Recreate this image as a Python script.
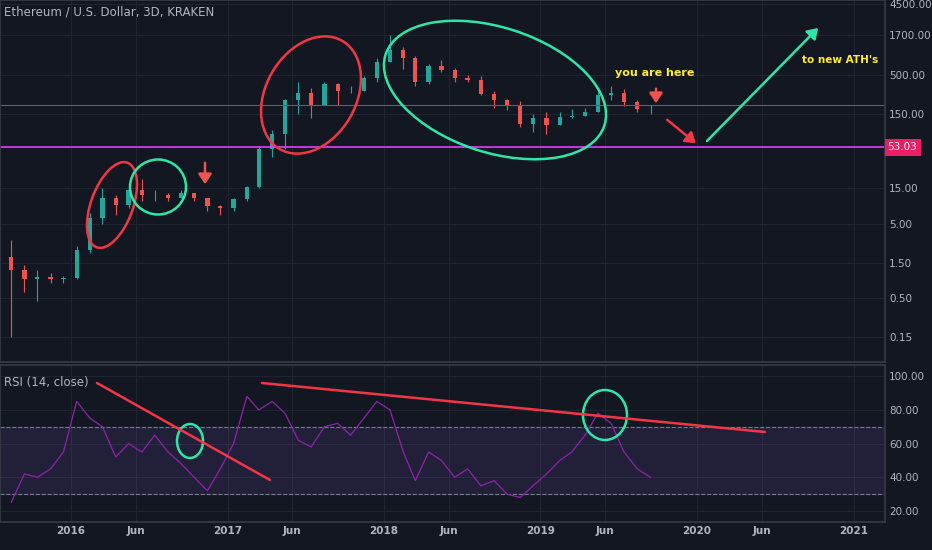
import numpy as np, pandas as pd, seaborn as sns, matplotlib
matplotlib.use("Agg")
import matplotlib.pyplot as plt, matplotlib.dates as mdates
from matplotlib.patches import Ellipse, FancyArrowPatch

# monthly candles Aug 2015 .. Sep 2019
start = "2015-08-01"
closes = [1.2,0.9,0.95,0.9,0.93,2.2,6.0,11,8.8,14,12,12,11,13,11,8.7,8.0,10.7,15.5,50,80,230,290,200,380,300,300,450,750,
          1100,850,400,670,580,450,430,280,230,200,110,133,107,136,141,160,270,290,218,172,175]
highs  = [3.0,1.4,1.2,1.1,1.0,2.5,7.0,15,12,15,20,14,13,14,13,11,9,11,16,55,90,240,400,330,400,390,350,480,850,
          1700,1200,900,700,800,620,500,480,300,240,220,150,160,160,175,180,300,360,320,230,200]
lows   = [0.15,0.6,0.45,0.8,0.8,0.9,2.0,5.0,6.5,8.0,10,10,10,11,10,7.5,6.5,7.5,10,15,40,50,150,130,200,200,290,300,400,
          750,600,350,380,550,400,400,270,180,170,100,85,80,105,130,140,160,230,190,160,150]
rsi    = [25,42,40,45,55,85,75,70,52,60,55,65,55,48,40,32,45,60,88,80,85,78,62,58,70,72,65,75,85,
          80,55,38,55,50,40,45,35,38,30,28,35,42,50,55,65,78,72,55,45,40]

dates = pd.date_range(start, periods=len(closes), freq="MS") + pd.Timedelta(days=14)
opens = [closes[0]*1.5] + closes[:-1]
df = pd.DataFrame({"date": dates, "rsi": rsi})

BG = "#131722"; GRID = "#1f2430"; TXT = "#b2b5be"
sns.set_theme(style="dark", rc={"axes.facecolor": BG, "figure.facecolor": BG})
fig = plt.figure(figsize=(9.32, 5.5), dpi=100)
ax = fig.add_axes([0, 0.342, 0.9496, 0.658])
ar = fig.add_axes([0, 0.051, 0.9496, 0.285], sharex=ax)

xmin, xmax = mdates.date2num(pd.Timestamp("2015-07-20")), mdates.date2num(pd.Timestamp("2021-03-15"))
for a in (ax, ar):
    a.set_facecolor(BG)
    a.yaxis.tick_right()
    a.tick_params(colors=TXT, labelsize=7.5, length=0, pad=3)
    a.grid(True, color=GRID, lw=0.8)
    for s in a.spines.values(): s.set_color("#363a45")
    a.set_xlim(xmin, xmax)

# candles
x = mdates.date2num(dates)
for xi, o, c, h, l in zip(x, opens, closes, highs, lows):
    col = "#26a69a" if c >= o else "#ef5350"
    ax.vlines(xi, l, h, color=col, lw=0.8)
    ax.bar(xi, abs(c - o) or c*0.02, bottom=min(o, c), width=10, color=col, linewidth=0)
ax.set_yscale("log")
ax.set_ylim(0.069, 5100)
pt = [0.15, 0.5, 1.5, 5, 15, 150, 500, 1700, 4500]
ax.set_yticks(pt); ax.set_yticklabels([f"{v:.2f}" for v in pt])
ax.minorticks_off()
ax.axhline(53.03, color="#e040fb", lw=1.2)
ax.axhline(200, color="#5d606b", lw=0.8)
ax.text(1.003, 53.03, "53.03", transform=ax.get_yaxis_transform(), va="center", ha="left", color="white", fontsize=7.5,
        bbox=dict(boxstyle="square,pad=0.3", fc="#e91e63", ec="none"))
ax.text(0.005, 0.985, "Ethereum / U.S. Dollar, 3D, KRAKEN", transform=ax.transAxes, va="top", color=TXT, fontsize=8.5)
plt.setp(ax.get_xticklabels(), visible=False)

# RSI
ar.axhspan(30, 70, color="#7e57c2", alpha=0.15)
ar.axhline(70, color="#787b86", ls="--", lw=0.8); ar.axhline(30, color="#787b86", ls="--", lw=0.8)
sns.lineplot(data=df, x=mdates.date2num(df["date"]), y="rsi", ax=ar, color="#8e24aa", lw=0.9)
ar.set_ylim(13.5, 106.5); ar.set_ylabel(""); ar.set_xlabel("")
rt = [20, 40, 60, 80, 100]
ar.set_yticks(rt); ar.set_yticklabels([f"{v:.2f}" for v in rt])
ar.text(0.005, 0.93, "RSI (14, close)", transform=ar.transAxes, va="top", color=TXT, fontsize=8.5)
ticks = pd.to_datetime(["2016-01-01","2016-06-01","2017-01-01","2017-06-01","2018-01-01","2018-06-01",
                        "2019-01-01","2019-06-01","2020-01-01","2020-06-01","2021-01-01"])
ar.set_xticks(mdates.date2num(ticks))
ar.set_xticklabels([t.strftime("%Y") if t.month == 1 else "Jun" for t in ticks], fontweight="bold")

# annotations in pixel space
T = fig.dpi_scale_trans
def P(px, py): return (px/100, (550-py)/100)
def ell(cx, cy, w, h, ang, col):
    fig.add_artist(Ellipse(P(cx, cy), w/100, h/100, angle=ang, transform=T, fill=False, ec=col, lw=1.8))
def arr(x0, y0, x1, y1, col):
    fig.add_artist(FancyArrowPatch(P(x0, y0), P(x1, y1), transform=T, arrowstyle="-|>,head_length=6,head_width=4",
                                   color=col, lw=1.8))
RED = "#f23645"; GRN = "#2ee6a6"
ell(112, 205, 42, 90, -20, RED); ell(158, 187, 56, 55, 0, GRN)
ell(311, 95, 90, 125, -30, RED); ell(495, 90, 230, 125, -18, GRN)
ell(190, 441, 26, 34, 0, GRN); ell(605, 415, 44, 50, 0, GRN)
arr(205, 160, 205, 187, "#ef5350"); arr(656, 86, 656, 106, "#ef5350")
arr(665, 118, 698, 145, RED); arr(705, 143, 820, 26, GRN)
fig.text(655/932, 1-73/550, "you are here", color="#ffeb3b", fontsize=8, ha="center", va="center", fontweight="bold")
fig.text(840/932, 1-60/550, "to new ATH's", color="#ffeb3b", fontsize=7.5, ha="center", va="center", fontweight="bold")
fig.add_artist(plt.Line2D([97/100, 270/100], [(550-383)/100, (550-480)/100], transform=T, color=RED, lw=1.8))
fig.add_artist(plt.Line2D([262/100, 765/100], [(550-383)/100, (550-432)/100], transform=T, color=RED, lw=1.8))
fig.savefig("out.png", dpi=100, facecolor=BG)
